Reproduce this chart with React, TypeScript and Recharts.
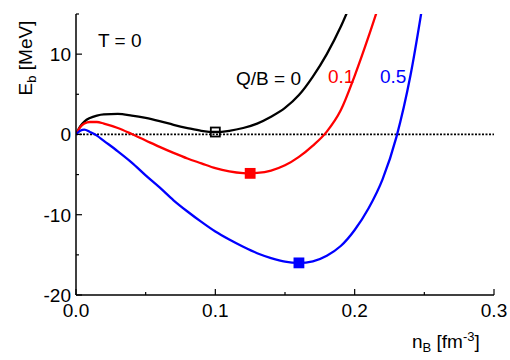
import React from 'react';
import { ComposedChart, Line, Scatter, XAxis, YAxis, ReferenceLine } from 'recharts';

const FONT = '"Liberation Sans", Arial, Helvetica, sans-serif';
const FS = 19;

// Q/B = 0 (black)
const nBlack = [0, 0.003, 0.006, 0.01, 0.015, 0.02, 0.03, 0.04, 0.05, 0.06, 0.07, 0.08, 0.09, 0.1, 0.11, 0.12, 0.13, 0.14, 0.15, 0.16, 0.17, 0.18, 0.19, 0.2];
const eBlack = [0, 1.0, 1.6, 2.05, 2.35, 2.5, 2.55, 2.35, 2.05, 1.65, 1.2, 0.8, 0.45, 0.3, 0.45, 0.8, 1.35, 2.2, 3.3, 4.9, 7.2, 10.0, 13.4, 17.5];

// Q/B = 0.1 (red)
const nRed = [0, 0.003, 0.006, 0.01, 0.015, 0.02, 0.03, 0.04, 0.05, 0.06, 0.07, 0.08, 0.09, 0.1, 0.11, 0.12, 0.125, 0.13, 0.14, 0.15, 0.16, 0.17, 0.18, 0.19, 0.2, 0.21, 0.22];
const eRed = [0, 0.9, 1.35, 1.55, 1.55, 1.35, 0.8, 0.05, -0.75, -1.55, -2.3, -3.0, -3.6, -4.2, -4.6, -4.82, -4.85, -4.8, -4.5, -3.85, -2.8, -1.4, 0.35, 3.0, 7.3, 12.2, 17.5];

// Q/B = 0.5 (blue)
const nBlue = [0, 0.003, 0.006, 0.01, 0.015, 0.02, 0.03, 0.04, 0.05, 0.06, 0.07, 0.08, 0.09, 0.1, 0.11, 0.12, 0.13, 0.14, 0.15, 0.16, 0.17, 0.18, 0.19, 0.2, 0.21, 0.22, 0.23, 0.24, 0.25];
const eBlue = [0, 0.45, 0.6, 0.3, -0.15, -0.8, -2.1, -3.5, -5.1, -6.6, -8.2, -9.6, -10.9, -12.1, -13.1, -14.0, -14.8, -15.4, -15.85, -16.0, -15.8, -15.1, -13.9, -11.9, -9.2, -5.6, -0.3, 7.3, 17.5];

// minima markers
const minBlack = [{ n: 0.1, E: 0.3 }];
const minRed = [{ n: 0.125, E: -4.85 }];
const minBlue = [{ n: 0.16, E: -16.0 }];

const xTicks = [0, 0.05, 0.1, 0.15, 0.2, 0.25, 0.3];
const yTicks = [-20, -15, -10, -5, 0, 5, 10, 15];

const zip = (n: number[], e: number[]) => n.map((v, i) => ({ n: v, E: e[i] }));
const blackData = zip(nBlack, eBlack);
const redData = zip(nRed, eRed);
const blueData = zip(nBlue, eBlue);

const isMajorX = (v: number) => Math.round(v * 100) % 10 === 0;
const isMajorY = (v: number) => Math.round(v) % 10 === 0;

const XTickBottom = (props: any) => {
  const { x, y, payload } = props;
  const v = payload.value;
  const major = isMajorX(v);
  return (
    <g>
      <line x1={x} x2={x} y1={y} y2={y - (major ? 6 : 3)} stroke="#000" strokeWidth={1.2} />
      {major && (
        <text x={x} y={y + 22} textAnchor="middle" fontSize={FS} fontFamily={FONT} fill="#000">
          {v.toFixed(1)}
        </text>
      )}
    </g>
  );
};

const XTickTop = (props: any) => {
  const { x, y, payload } = props;
  const major = isMajorX(payload.value);
  return <line x1={x} x2={x} y1={y} y2={y + (major ? 6 : 3)} stroke="#000" strokeWidth={1.2} />;
};

const YTickLeft = (props: any) => {
  const { x, y, payload } = props;
  const v = payload.value;
  const major = isMajorY(v);
  return (
    <g>
      <line x1={x} x2={x + (major ? 6 : 3)} y1={y} y2={y} stroke="#000" strokeWidth={1.2} />
      {major && (
        <text x={x - 5} y={y} dy="0.36em" textAnchor="end" fontSize={FS} fontFamily={FONT} fill="#000">
          {String(v)}
        </text>
      )}
    </g>
  );
};

const YTickRight = (props: any) => {
  const { x, y, payload } = props;
  const major = isMajorY(payload.value);
  return <line x1={x} x2={x - (major ? 6 : 3)} y1={y} y2={y} stroke="#000" strokeWidth={1.2} />;
};

const squareShape = (fill: string, stroke: string) => (props: any) => {
  const { cx, cy } = props;
  const s = 9;
  return <rect x={cx - s / 2} y={cy - s / 2} width={s} height={s} fill={fill} stroke={stroke} strokeWidth={1.8} />;
};

const axisLine = { stroke: '#000', strokeWidth: 1.5 };

export default function App() {
  return (
    <div style={{ position: 'absolute', left: 0, top: 0, width: 510, height: 360, background: '#fff' }}>
      <ComposedChart width={510} height={360} margin={{ top: 14, right: 16, bottom: 35, left: 16 }}>
        <XAxis
          xAxisId="b"
          type="number"
          dataKey="n"
          domain={[0, 0.3]}
          ticks={xTicks}
          interval={0}
          allowDataOverflow
          tickLine={false}
          tickSize={0}
          tickMargin={0}
          height={30}
          axisLine={axisLine}
          tick={XTickBottom}
        />
        <XAxis
          xAxisId="t"
          orientation="top"
          type="number"
          dataKey="n"
          domain={[0, 0.3]}
          ticks={xTicks}
          interval={0}
          allowDataOverflow
          tickLine={false}
          tickSize={0}
          tickMargin={0}
          height={0}
          axisLine={axisLine}
          tick={XTickTop}
        />
        <YAxis
          yAxisId="l"
          type="number"
          domain={[-20, 15]}
          ticks={yTicks}
          interval={0}
          allowDataOverflow
          tickLine={false}
          tickSize={0}
          tickMargin={0}
          width={60}
          axisLine={axisLine}
          tick={YTickLeft}
        />
        <YAxis
          yAxisId="r"
          orientation="right"
          type="number"
          domain={[-20, 15]}
          ticks={yTicks}
          interval={0}
          allowDataOverflow
          tickLine={false}
          tickSize={0}
          tickMargin={0}
          width={0}
          axisLine={axisLine}
          tick={YTickRight}
        />
        <ReferenceLine xAxisId="b" yAxisId="l" y={0} stroke="#000" strokeWidth={1.8} strokeDasharray="2 1.5" />
        <Line xAxisId="b" yAxisId="l" data={blackData} dataKey="E" type="monotone" stroke="#000" strokeWidth={2.3} dot={false} isAnimationActive={false} />
        <Line xAxisId="b" yAxisId="l" data={redData} dataKey="E" type="monotone" stroke="#ff0000" strokeWidth={2.3} dot={false} isAnimationActive={false} />
        <Line xAxisId="b" yAxisId="l" data={blueData} dataKey="E" type="monotone" stroke="#0000ff" strokeWidth={2.3} dot={false} isAnimationActive={false} />
        <Scatter xAxisId="b" yAxisId="l" data={minBlack} dataKey="E" shape={squareShape('none', '#000')} isAnimationActive={false} />
        <Scatter xAxisId="b" yAxisId="l" data={minRed} dataKey="E" shape={squareShape('#ff0000', '#ff0000')} isAnimationActive={false} />
        <Scatter xAxisId="b" yAxisId="l" data={minBlue} dataKey="E" shape={squareShape('#0000ff', '#0000ff')} isAnimationActive={false} />
        <text x={98} y={47} fontSize={FS} fontFamily={FONT} fill="#000">T = 0</text>
        <text x={236} y={85} fontSize={FS} fontFamily={FONT} fill="#000">Q/B = 0</text>
        <text x={328} y={83} fontSize={FS} fontFamily={FONT} fill="#ff0000">0.1</text>
        <text x={380} y={83} fontSize={FS} fontFamily={FONT} fill="#0000ff">0.5</text>
        <text x={32} y={58} transform="rotate(-90, 32, 58)" textAnchor="middle" fontSize={FS} fontFamily={FONT} fill="#000">
          E<tspan fontSize={13} dy={4}>b</tspan><tspan dy={-4}> [MeV]</tspan>
        </text>
        <text x={412} y={348} fontSize={FS} fontFamily={FONT} fill="#000">
          n<tspan fontSize={13} dy={4}>B</tspan><tspan dy={-4}> [fm</tspan><tspan fontSize={13} dy={-7}>-3</tspan><tspan dy={7}>]</tspan>
        </text>
      </ComposedChart>
    </div>
  );
}
